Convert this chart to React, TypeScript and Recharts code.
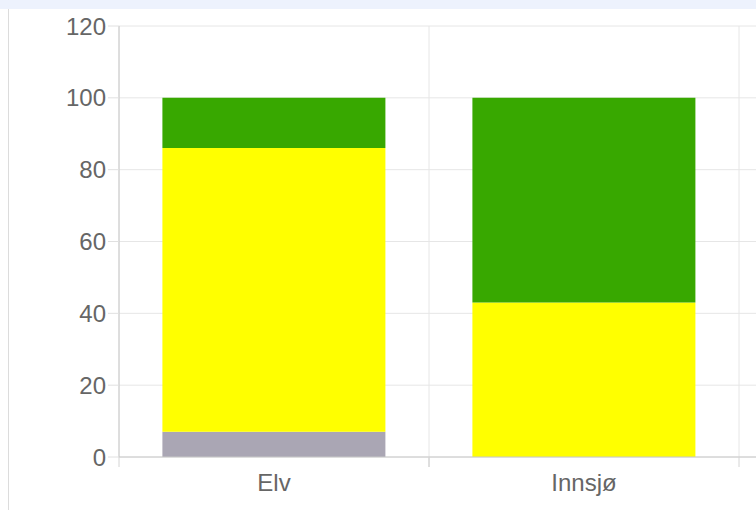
import React from 'react';
import { BarChart, Bar, XAxis, YAxis, CartesianGrid } from 'recharts';

const categories = ['Elv', 'Innsjø'];
const ukjent = [7, 0];
const moderat = [79, 43];
const god = [14, 57];
const yTicks = [0, 20, 40, 60, 80, 100, 120];

const data = categories.map((name, i) => ({
    name,
    ukjent: ukjent[i],
    moderat: moderat[i],
    god: god[i],
}));

const CHART_W = 900;
const CHART_H = 510;
const Y_W = 119;
const PAD_RIGHT = 161;
const BAND = (CHART_W - Y_W - PAD_RIGHT) / categories.length;

const font = "'Liberation Sans', Arial, Helvetica, sans-serif";

const XTick = ({ x, y, payload }: any) => (
    <g>
        <line x1={x - BAND / 2} x2={x - BAND / 2} y1={y} y2={y + 10} stroke="#d4d4d4" />
        <line x1={x + BAND / 2} x2={x + BAND / 2} y1={y} y2={y + 10} stroke="#d4d4d4" />
        <text x={x} y={y + 17} dy="0.71em" textAnchor="middle" fill="#666" fontSize={24} fontFamily={font}>
            {payload.value}
        </text>
    </g>
);

export default function App() {
    return (
        <div style={{
            position: 'absolute',
            top: 0,
            left: 0,
            width: 756,
            height: 510,
            overflow: 'hidden',
            background: '#fff'
        }}>
            {/* title strip, cut off at the top */}
            <div style={{ position: 'absolute', top: 0, left: 0, width: 756, height: 9, background: '#edf2fd' }} />
            <div style={{ position: 'absolute', top: 9, left: 8, width: 1, height: 501, background: '#dcdcdc' }} />

            <div style={{ position: 'absolute', top: 0, left: 0 }}>
                <BarChart
                    width={CHART_W}
                    height={CHART_H}
                    data={data}
                    margin={{ top: 26, right: 0, left: 0, bottom: 0 }}
                    barCategoryGap="14%"
                >
                    <CartesianGrid
                        stroke="#e6e6e6"
                        verticalCoordinatesGenerator={({ offset }: any) =>
                            categories.map((_, i) => offset.left + i * BAND).concat(offset.left + categories.length * BAND)
                        }
                    />
                    <XAxis
                        dataKey="name"
                        height={CHART_H - 26 - 431}
                        padding={{ left: 0, right: PAD_RIGHT }}
                        axisLine={{ stroke: '#c8c8c8' }}
                        tickLine={false}
                        tickSize={0}
                        tickMargin={0}
                        tick={<XTick />}
                        interval={0}
                    />
                    <YAxis
                        width={Y_W}
                        domain={[0, 120]}
                        ticks={yTicks}
                        axisLine={{ stroke: '#c8c8c8' }}
                        tickLine={{ stroke: '#e0e0e0' }}
                        tickSize={11}
                        tickMargin={2}
                        tick={{ fill: '#666', fontSize: 24, fontFamily: font }}
                    />
                    <Bar dataKey="ukjent" name="Ukjent" stackId="a" fill="#aaa6b4" isAnimationActive={false} />
                    <Bar dataKey="moderat" name="Moderat" stackId="a" fill="#ffff00" isAnimationActive={false} />
                    <Bar dataKey="god" name="God" stackId="a" fill="#38a800" isAnimationActive={false} />
                </BarChart>
            </div>
        </div>
    );
}
